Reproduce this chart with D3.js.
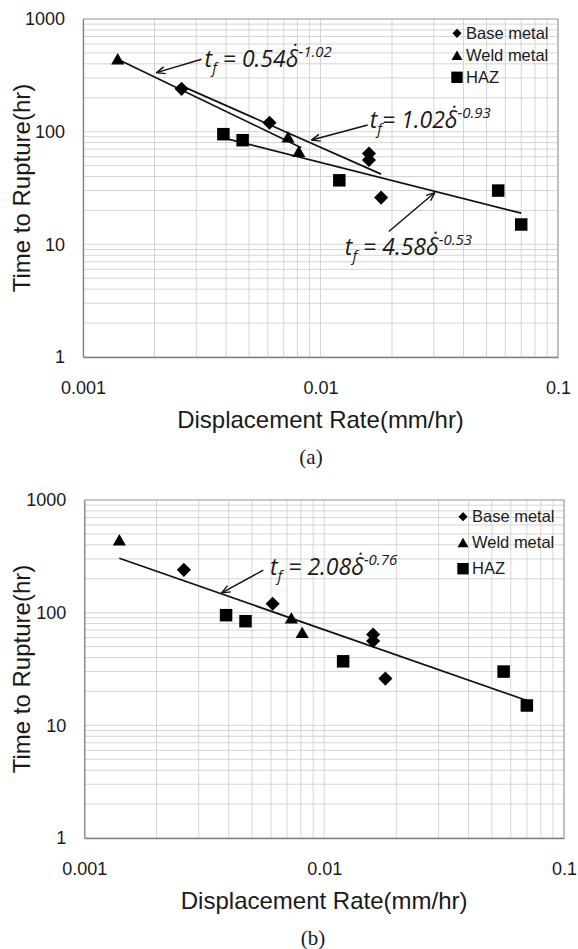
<!DOCTYPE html>
<html>
<head>
<meta charset="utf-8">
<script src="https://cdn.jsdelivr.net/npm/d3@7"></script>
<style>
body { margin: 0; background: #fff; }
svg text { fill: #1a1a1a; }
</style>
</head>
<body>
<div id="chart"></div>
<script>
// measured points (displacement rate mm/hr, time to rupture hr)
var baseX = [0.0026, 0.0061, 0.016, 0.016, 0.018];
var baseY = [240, 120, 64, 56, 26];
var weldX = [0.0014, 0.0073, 0.0081];
var weldY = [445, 90, 67];
var hazX = [0.0039, 0.0047, 0.012, 0.056, 0.070];
var hazY = [95, 84, 37, 30, 15];

var xTicks = [0.001, 0.01, 0.1];
var yTicks = [1, 10, 100, 1000];
var legendNames = ['Base metal', 'Weld metal', 'HAZ'];

// fit line ends
var weldFitX = [0.0014, 0.0083];
var weldFitY = [440, 72];
var baseFitX = [0.0026, 0.018];
var baseFitY = [255, 42];
var hazFitX = [0.0039, 0.07];
var hazFitY = [88, 18.9];
var allFitX = [0.0014, 0.07];
var allFitY = [304, 16.6];

// equation labels and where their arrows point
var eqCoefA = ['0.54', '1.02', '4.58'];
var eqExpA = ['-1.02', '-0.93', '-0.53'];
var eqTipXA = [0.00204, 0.00918, 0.0303];
var eqTipYA = [334, 84.4, 28.8];
var eqCoefB = ['2.08'];
var eqExpB = ['-0.76'];
var eqTipXB = [0.00374];
var eqTipYB = [150];

var width = 578;
var height = 949;

var svg = d3.select('#chart')
	.append('svg')
	.attr('width', width)
	.attr('height', height);

svg.append('defs')
	.append('marker')
	.attr('id', 'arr')
	.attr('viewBox', '0 0 10 10')
	.attr('refX', 9.5)
	.attr('refY', 5)
	.attr('markerWidth', 10)
	.attr('markerHeight', 10)
	.attr('markerUnits', 'userSpaceOnUse')
	.attr('orient', 'auto')
	.append('path')
	.attr('d', 'M1,1.5 L9.5,5 L1,8.5')
	.attr('fill', 'none')
	.attr('stroke', '#111')
	.attr('stroke-width', 1.4);

var panelA = {
	left: 83, right: 558, top: 19, bottom: 357,
	cap: '(a)', capX: 311,
	legX: 457, legY: 33.3, legStep: 22,
	fits: [[weldFitX, weldFitY], [baseFitX, baseFitY], [hazFitX, hazFitY]],
	coef: eqCoefA, exp: eqExpA, tipX: eqTipXA, tipY: eqTipYA,
	// tail dx, dy, text dx, dy, '=' spacing
	eqPos: [[45, -13.4, 48, -6, ' = '], [56, -15, 58, -11.7, '= '], [-46, 39, -90, 62, ' = ']]
};

var panelB = {
	left: 84.3, right: 564, top: 500, bottom: 838,
	cap: '(b)', capX: 313,
	legX: 463, legY: 516.7, legStep: 26,
	fits: [[allFitX, allFitY]],
	coef: eqCoefB, exp: eqExpB, tipX: eqTipXB, tipY: eqTipYB,
	eqPos: [[41.6, -22.7, 48.3, -17.7, ' = ']]
};

drawPanel(panelA);
drawPanel(panelB);

function drawPanel(p) {
	var g = svg.append('g');

	var x_scale = d3.scaleLog()
		.domain([0.001, 0.1])
		.range([p.left, p.right]);

	var y_scale = d3.scaleLog()
		.domain([1, 1000])
		.range([p.bottom, p.top]);

	//grid
	g.append('g')
		.selectAll('line')
		.data(x_scale.ticks())
		.enter()
		.append('line')
		.attr('x1', function(d){ return x_scale(d); })
		.attr('x2', function(d){ return x_scale(d); })
		.attr('y1', p.top)
		.attr('y2', p.bottom)
		.attr('stroke', '#d4d4d4')
		.attr('stroke-width', 1);

	g.append('g')
		.selectAll('line')
		.data(y_scale.ticks())
		.enter()
		.append('line')
		.attr('x1', p.left)
		.attr('x2', p.right)
		.attr('y1', function(d){ return y_scale(d); })
		.attr('y2', function(d){ return y_scale(d); })
		.attr('stroke', '#d4d4d4')
		.attr('stroke-width', 1);

	//frame
	g.append('path')
		.attr('d', 'M' + p.left + ',' + p.top + 'H' + p.right + 'V' + p.bottom)
		.attr('fill', 'none')
		.attr('stroke', '#a6a6a6')
		.attr('stroke-width', 1.2);

	//axes
	var x_axis = d3.axisBottom(x_scale)
		.tickValues(xTicks)
		.tickSize(0)
		.tickPadding(24)
		.tickFormat(function(d){ return String(d); });

	var xg = g.append('g')
		.attr('transform', 'translate(0,' + p.bottom + ')')
		.call(x_axis);

	var y_axis = d3.axisLeft(y_scale)
		.tickValues(yTicks)
		.tickSize(0)
		.tickPadding(18)
		.tickFormat(function(d){ return String(d); });

	var yg = g.append('g')
		.attr('transform', 'translate(' + p.left + ',0)')
		.call(y_axis);

	[xg, yg].forEach(function(a){
		a.select('.domain').attr('stroke', '#808080').attr('stroke-width', 1.3);
		a.selectAll('text')
			.attr('font-family', '"Liberation Sans", Arial, sans-serif')
			.attr('font-size', 18)
			.attr('fill', '#1a1a1a');
	});

	//titles
	g.append('text')
		.attr('x', (p.left + p.right) / 2)
		.attr('y', p.bottom + 63)
		.attr('dy', '0.35em')
		.attr('text-anchor', 'middle')
		.attr('font-family', '"Liberation Sans", Arial, sans-serif')
		.attr('font-size', 24)
		.text('Displacement Rate(mm/hr)');

	g.append('text')
		.attr('transform', 'translate(' + 22 + ',' + ((p.top + p.bottom) / 2) + ') rotate(-90)')
		.attr('dy', '0.35em')
		.attr('text-anchor', 'middle')
		.attr('font-family', '"Liberation Sans", Arial, sans-serif')
		.attr('font-size', 24)
		.text('Time to Rupture(hr)');

	g.append('text')
		.attr('x', p.capX)
		.attr('y', p.bottom + 100)
		.attr('dy', '0.35em')
		.attr('text-anchor', 'middle')
		.attr('font-family', '"Liberation Serif", "Times New Roman", serif')
		.attr('font-size', 21)
		.text(p.cap);

	//fit lines
	var line = d3.line()
		.x(function(d){ return x_scale(d[0]); })
		.y(function(d){ return y_scale(d[1]); });

	p.fits.forEach(function(f){
		g.append('path')
			.datum(d3.zip(f[0], f[1]))
			.attr('d', line)
			.attr('fill', 'none')
			.attr('stroke', '#111')
			.attr('stroke-width', 1.7);
	});

	//points
	var diamond = d3.symbol().type(d3.symbolSquare).size(100);
	var tri = d3.symbol().type(d3.symbolTriangle).size(75);
	var sq = d3.symbol().type(d3.symbolSquare).size(156);

	g.append('g')
		.selectAll('path')
		.data(d3.zip(baseX, baseY))
		.enter()
		.append('path')
		.attr('d', diamond)
		.attr('transform', function(d){
			return 'translate(' + x_scale(d[0]) + ',' + y_scale(d[1]) + ') rotate(45)';
		})
		.attr('fill', '#000');

	g.append('g')
		.selectAll('path')
		.data(d3.zip(weldX, weldY))
		.enter()
		.append('path')
		.attr('d', tri)
		.attr('transform', function(d){
			return 'translate(' + x_scale(d[0]) + ',' + (y_scale(d[1]) + 2) + ')';
		})
		.attr('fill', '#000');

	g.append('g')
		.selectAll('path')
		.data(d3.zip(hazX, hazY))
		.enter()
		.append('path')
		.attr('d', sq)
		.attr('transform', function(d){
			return 'translate(' + x_scale(d[0]) + ',' + y_scale(d[1]) + ')';
		})
		.attr('fill', '#000');

	//legend
	var legSyms = [
		d3.symbol().type(d3.symbolSquare).size(42),
		d3.symbol().type(d3.symbolTriangle).size(52),
		d3.symbol().type(d3.symbolSquare).size(130)
	];
	var leg = g.append('g')
		.selectAll('g')
		.data(legendNames)
		.enter()
		.append('g')
		.attr('transform', function(d, i){
			return 'translate(' + p.legX + ',' + (p.legY + i * p.legStep) + ')';
		});

	leg.append('path')
		.attr('d', function(d, i){ return legSyms[i](); })
		.attr('transform', function(d, i){
			return i == 0 ? 'rotate(45)' : (i == 1 ? 'translate(0,1.5)' : '');
		})
		.attr('fill', '#000');

	leg.append('text')
		.attr('x', 9)
		.attr('dy', '0.35em')
		.attr('font-family', '"Liberation Sans", Arial, sans-serif')
		.attr('font-size', 16.5)
		.text(function(d){ return d; });

	//equations
	p.coef.forEach(function(c, i){
		var tx = x_scale(p.tipX[i]);
		var ty = y_scale(p.tipY[i]);
		var o = p.eqPos[i];

		g.append('line')
			.attr('x1', tx + o[0])
			.attr('y1', ty + o[1])
			.attr('x2', tx)
			.attr('y2', ty)
			.attr('stroke', '#111')
			.attr('stroke-width', 1.4)
			.attr('marker-end', 'url(#arr)');

		var t = g.append('text')
			.attr('x', tx + o[2])
			.attr('y', ty + o[3])
			.attr('font-family', '"Open Sans", "Noto Sans", sans-serif')
			.attr('font-style', 'italic')
			.attr('font-size', 23);

		t.append('tspan').text('t');
		t.append('tspan').attr('dy', 6).attr('font-size', 15).text('f');
		t.append('tspan').attr('dy', -6).text(o[4] + c + '\u03B4\u0307');
		t.append('tspan').attr('dy', -10).attr('font-size', 15).text(p.exp[i]);
	});
}
</script>
</body>
</html>
